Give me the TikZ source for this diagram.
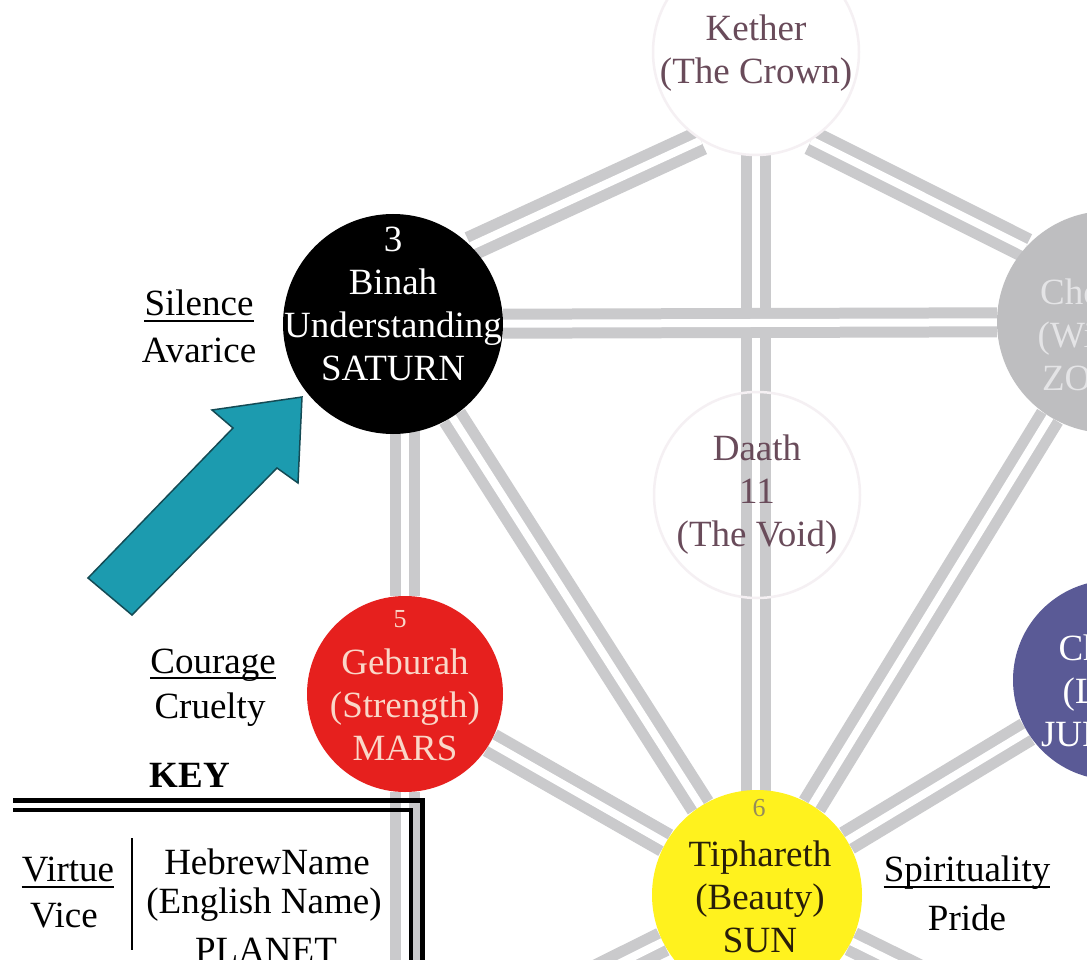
\documentclass[tikz,border=0pt]{standalone}
\usepackage{fontspec}
\setmainfont{Liberation Serif}
\pgfdeclarelayer{bg}
\pgfsetlayers{bg,main}
\definecolor{pathgrey}{RGB}{202,202,204}
\definecolor{kethertxt}{RGB}{105,75,90}
\definecolor{ketheredge}{RGB}{245,240,243}
\definecolor{gebred}{RGB}{230,32,30}
\definecolor{gebtxt}{RGB}{250,215,200}
\definecolor{tiphyellow}{RGB}{255,242,30}
\definecolor{tiphtxt}{RGB}{40,30,10}
\definecolor{tiphnum}{RGB}{150,140,90}
\definecolor{chokgrey}{RGB}{190,190,192}
\definecolor{choktxt}{RGB}{228,228,230}
\definecolor{chesedblue}{RGB}{90,90,150}
\definecolor{arrowteal}{RGB}{28,155,175}
\definecolor{arrowdark}{RGB}{20,75,85}
\begin{document}
\begin{tikzpicture}[x=1pt,y=-1pt,
  tpath/.style={draw=pathgrey, line width=11pt, double=white, double distance=8pt},
  sephira/.style={circle, inner sep=0pt, minimum size=#1},
  lbl/.style={font=\fontsize{37}{43}\selectfont, align=center, inner sep=0pt},
  numlbl/.style={font=\fontsize{26}{30}\selectfont, inner sep=0pt},
  ulrule/.style={line width=2pt, black}]
\useasboundingbox (0,0) rectangle (1087,960);
\begin{scope}
\clip (0,0) rectangle (1087,960);

% sephiroth
\node[sephira=206pt, fill=white, draw=ketheredge, line width=2.5pt] (kether) at (756,52) {};
\node[sephira=220pt, fill=black] (binah) at (393,324) {};
\node[sephira=222pt, fill=chokgrey] (chokmah) at (1108,322) {};
\node[sephira=196pt, fill=gebred] (geburah) at (405,694) {};
\node[sephira=200pt, fill=chesedblue] (chesed) at (1113,680) {};
\node[sephira=210pt, fill=tiphyellow] (tiphareth) at (757,895) {};
\node[sephira=206pt, draw=ketheredge, line width=2.5pt] (daath) at (757,495) {};
\coordinate (hod) at (405,1070);
\coordinate (netzach) at (1113,1070);

% texts in sephiroth
\node[lbl, text=kethertxt] (tkether) at (756,53) {Kether\\(The Crown)};
\node[lbl, text=white] (tbinah) at (393,304) {3\\Binah\\Understanding\\SATURN};
\node[lbl, text=choktxt] (tchokmah) at (1112,335) {Chokmah\\(Wisdom)\\ZODIAC};
\node[numlbl, text=gebtxt] (ngeburah) at (400,619) {5};
\node[lbl, text=gebtxt] (tgeburah) at (405,705) {Geburah\\(Strength)\\MARS};
\node[lbl, text=white] (tchesed) at (1113,691) {Chesed\\(Love)\\JUPITER};
\node[numlbl, text=tiphnum] (ntiph) at (759,808) {6};
\node[lbl, text=tiphtxt] (ttiph) at (760,897) {Tiphareth\\(Beauty)\\SUN};
\node[lbl, text=kethertxt] (tdaath) at (757,495) {Daath\\11\\(The Void)};

% virtue / vice labels
\node[lbl] (silence) at (199,303) {Silence};
\node[lbl] (avarice) at (199,350) {Avarice};
\draw[ulrule] ([yshift=-5pt]silence.base west) -- ([yshift=-5pt]silence.base east);
\node[lbl] (courage) at (213,665) {Courage};
\node[lbl] (cruelty) at (210,710) {Cruelty};
\draw[ulrule] ([yshift=-5pt]courage.base west) -- ([yshift=-5pt]courage.base east);
\node[lbl] (spirit) at (967,873) {Spirituality};
\node[lbl] (pride) at (967,918) {Pride};
\draw[ulrule] ([yshift=-5pt]spirit.base west) -- ([yshift=-5pt]spirit.base east);

% key
\node[lbl, font=\fontsize{37}{43}\selectfont\bfseries] (keytitle) at (190,775) {KEY};
\coordinate (kbtl) at (13,800);
\coordinate (kbtr) at (422,800);
\coordinate (kbbr) at (422,965);
\coordinate (kitl) at (13,810);
\coordinate (kitr) at (411,810);
\coordinate (kibr) at (411,965);
\draw[line width=5pt, line join=miter] (kbtl) -- (kbtr) -- (kbbr);
\draw[line width=3.5pt, line join=miter] (kitl) -- (kitr) -- (kibr);
\node[lbl] (virtue) at (68,870) {Virtue};
\node[lbl] (vice) at (64,916) {Vice};
\draw[ulrule] ([yshift=-5pt]virtue.base west) -- ([yshift=-5pt]virtue.base east);
\coordinate (divtop) at (132,838);
\coordinate (divbot) at (132,950);
\draw[line width=2pt] (divtop) -- (divbot);
\node[lbl] (hebname) at (267,862) {HebrewName};
\node[lbl] (engname) at (264,905) {(English Name)};
\node[lbl] (planet) at (266,950) {PLANET};

% arrow
\filldraw[fill=arrowteal, draw=arrowdark, line width=1.5pt, line join=miter]
  (88,578) -- (233,428) -- (212,410) -- (302,397) -- (298,483) -- (277,468) -- (132,615) -- cycle;
\end{scope}

\begin{pgfonlayer}{bg}
\clip (0,0) rectangle (1087,960);
\fill[white] (0,0) rectangle (1087,960);
\draw[tpath] (kether.238) -- (binah.45);
\draw[tpath] (kether.302) -- (chokmah.138);
\draw[tpath] (kether.center) -- (kether.center |- tiphareth.center);
\draw[tpath] (binah) -- (chokmah);
\draw[tpath] (geburah.center |- binah.center) -- (geburah);
\draw[tpath] (binah) -- (tiphareth);
\draw[tpath] (chokmah) -- (tiphareth);
\draw[tpath] (geburah) -- (tiphareth);
\draw[tpath] (chesed) -- (tiphareth);
\draw[tpath] (geburah) -- (hod);
\draw[tpath] (tiphareth) -- (hod);
\draw[tpath] (tiphareth) -- (netzach);
\draw[tpath] (chokmah) -- (chesed);
\end{pgfonlayer}
\end{tikzpicture}
\end{document}
